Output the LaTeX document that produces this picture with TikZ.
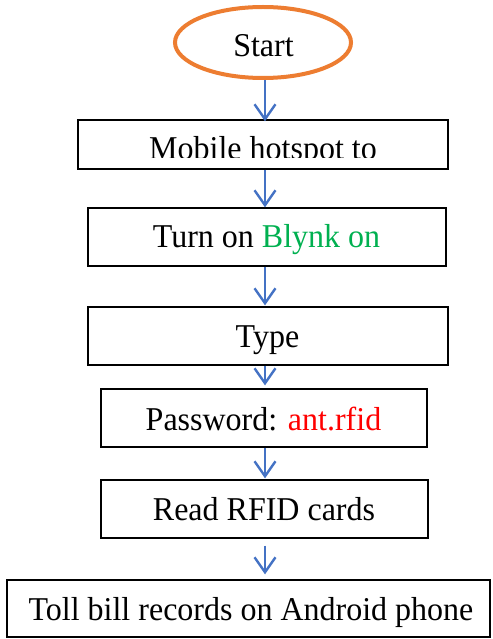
\documentclass[tikz,border=0pt]{standalone}
\usepackage{fontspec}
\setmainfont{Liberation Serif}
\usepackage{graphicx}
\usetikzlibrary{arrows.meta,shapes.geometric}
\definecolor{flowblue}{HTML}{4472C4}
\definecolor{startorange}{HTML}{ED7D31}
\definecolor{textgreen}{HTML}{00B050}
\definecolor{textred}{HTML}{FF0000}
\newcommand{\tall}[1]{\scalebox{1}[1.04]{#1}}
\begin{document}
\begin{tikzpicture}[x=1pt,y=-1pt,
  stepbox/.style={draw=black,line width=1.3pt,rectangle,inner sep=0pt},
  lbl/.style={anchor=base,inner sep=0pt,font=\fontsize{32}{38}\selectfont},
  flow/.style={draw=flowblue,line width=2.4pt,
    -{Straight Barb[length=15pt,width=21pt,line width=2.4pt]}}]
\useasboundingbox (0,0) rectangle (492,639);

% start terminal
\node[ellipse,draw=startorange,line width=4pt,minimum width=176pt,minimum height=71pt,inner sep=0pt] (st) at (263,42.5) {};
\node[lbl] (tst) at (263.5,57) {\tall{Start}};

% process boxes
\node[stepbox,minimum width=370pt,minimum height=49pt] (b1) at (263,144.5) {};
\node[stepbox,minimum width=358pt,minimum height=58pt] (b2) at (267,237) {};
\node[stepbox,minimum width=360pt,minimum height=58pt] (b3) at (268,336) {};
\node[stepbox,minimum width=326pt,minimum height=58pt] (b4) at (264,418) {};
\node[stepbox,minimum width=327pt,minimum height=58pt] (b5) at (264.5,509) {};
\node[stepbox,minimum width=483pt,minimum height=57pt] (b6) at (248.5,608.5) {};

% labels
\begin{scope}
  \clip (78,120) rectangle (448,158);
  \node[lbl] (t1) at (263,160) {\tall{Mobile hotspot to}};
\end{scope}
\node[lbl] (t2) at (266.5,247) {\tall{Turn on \textcolor{textgreen}{Blynk on}}};
\node[lbl] (t3) at (267.5,347) {\tall{Type}};
\node[lbl] (t4) at (263.5,430) {\tall{Password: \textcolor{textred}{ant.rfid}}};
\node[lbl] (t5) at (264,520) {\tall{Read RFID cards}};
\node[lbl] (t6) at (251,620) {\tall{Toll bill records on Android phone}};

% flow arrows
\coordinate (col) at (265,0);
\draw[flow] (st.south -| col) -- ([yshift=-2pt]b1.north -| col);
\draw[flow] (b1.south -| col) -- (b2.north -| col);
\draw[flow] (b2.south -| col) -- ([yshift=1pt]b3.north -| col);
\draw[flow] (b3.south -| col) -- ([yshift=3pt]b4.north -| col);
\draw[flow] (b4.south -| col) -- ([yshift=1pt]b5.north -| col);
\draw[flow,shorten <=7pt] (b5.south -| col) -- ([yshift=5pt]b6.north -| col);
\end{tikzpicture}
\end{document}
